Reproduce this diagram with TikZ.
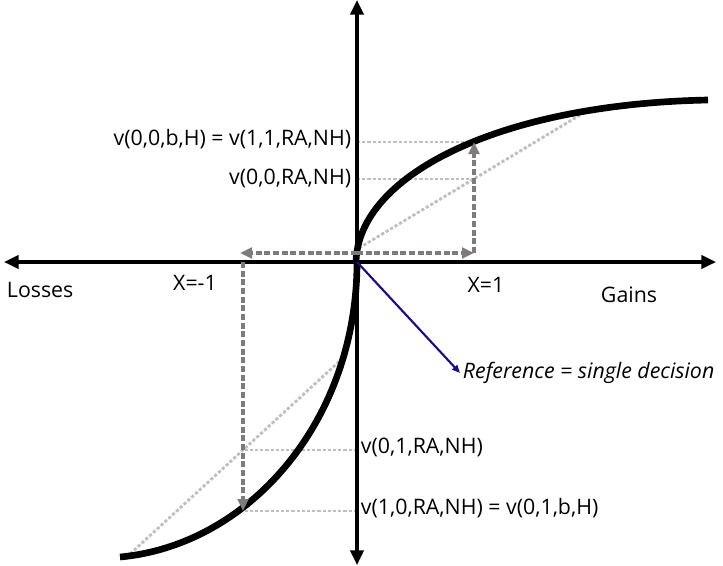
\documentclass[tikz,border=0pt]{standalone}
\usepackage{fontspec}
\setmainfont{Open Sans}
\usetikzlibrary{arrows.meta}
\definecolor{refblue}{HTML}{1F0A8C}
\definecolor{walkgray}{HTML}{7F7B7B}
\definecolor{guidegray}{HTML}{BFBFBF}
\begin{document}
\begin{tikzpicture}[x=0.75pt,y=-0.75pt,every node/.style={font=\fontsize{16}{18}\selectfont,inner sep=2pt}, axis/.style={line width=2.3pt,-{Triangle[length=11pt,width=10pt]}},valcurve/.style={line width=5pt},guide/.style={draw=guidegray,line width=2.1pt,dash pattern=on 2.4pt off 1.5pt},walk/.style={draw=walkgray,line width=2.6pt,dash pattern=on 4.5pt off 2pt,-{Triangle[length=9pt,width=8pt]}},refarrow/.style={draw=refblue,line width=1.6pt,-{Triangle[length=6pt,width=5pt]}}]
\useasboundingbox (0,0) rectangle (723,565);
\coordinate (O) at (357,262);
\coordinate (east) at (716,262);
\coordinate (west) at (4,262);
\coordinate (north) at (357,0);
\coordinate (south) at (357,565);
\coordinate (G1) at (474,142);
\coordinate (G0) at (474,179);
\coordinate (Gx) at (474,253);
\coordinate (Lx) at (240,253);
\coordinate (L1) at (243,511);
\coordinate (L0) at (243,450);
\coordinate (cg0) at (359,248);
\coordinate (cg1) at (585,112);
\coordinate (cl0) at (343,358);
\coordinate (cl1) at (130,554);
% guides
\draw[guide] (cg0) -- (cg1);
\draw[guide] (cl0) -- (cl1);
\draw[guide] (G1 -| O) -- (G1);
\draw[guide] (G0 -| O) -- (G0);
\draw[guide] (L0 -| O) -- (L0);
\draw[guide] (L1 -| O) -- (L1);
% axes
\draw[axis] (O) -- (east);
\draw[axis] (O) -- (west);
\draw[axis] (O) -- (north);
\draw[axis] (O) -- (south);
% value function
\draw[valcurve] (356,262) .. controls (358,175) and (500,104) .. (708,100);
\draw[valcurve] (357,262) .. controls (357,420) and (250,545) .. (120,557);
% steps
\draw[walk] (O |- Gx) -- (Gx);
\draw[walk] (Gx) -- (G1);
\draw[walk] (O |- Lx) -- (Lx);
\draw[walk] (Lx |- O) ++(3,0) coordinate (Ld) (Ld) -- (Ld |- L1);
% labels
\node[anchor=east] (vgain) at (354,139) {v(0,0,b,H) = v(1,1,RA,NH)};
\node[anchor=east] (vgainref) at (354,178) {v(0,0,RA,NH)};
\node[anchor=west] (vlossref) at (358,447) {v(0,1,RA,NH)};
\node[anchor=west] (vloss) at (358,508) {v(1,0,RA,NH) = v(0,1,b,H)};
\node[anchor=west] (losses) at (4,290) {Losses};
\node (xneg) at (195,283) {X=-1};
\node (xpos) at (486,285) {X=1};
\node (gains) at (629,295) {Gains};
\node[anchor=west,font=\fontsize{16}{18}\selectfont\itshape] (ref) at (460,373) {Reference = single decision};
\draw[refarrow] (O) -- (ref.west);
\end{tikzpicture}
\end{document}
